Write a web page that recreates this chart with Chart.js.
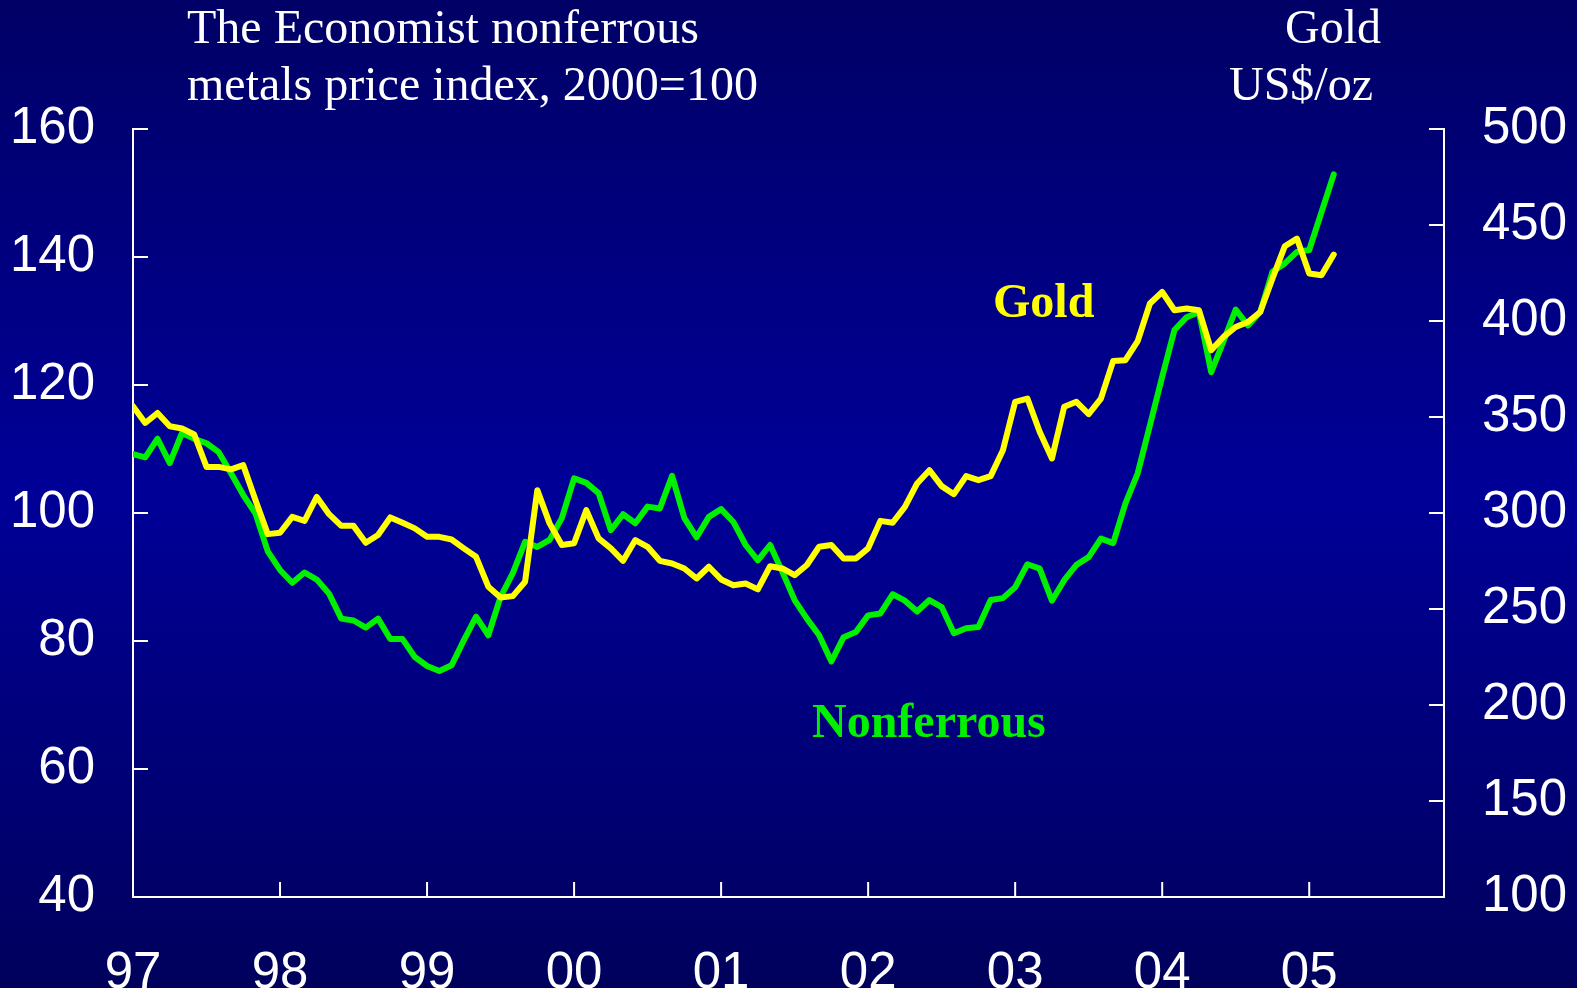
<!DOCTYPE html>
<html>
<head>
<meta charset="utf-8">
<script src="https://cdn.jsdelivr.net/npm/chart.js@4.4.1/dist/chart.umd.min.js"></script>
<style>
  html, body { margin: 0; padding: 0; background: #000070; }
  #wrap { width: 1577px; height: 988px; }
</style>
</head>
<body>
<div id="wrap"><canvas id="metalsChart" width="1577" height="988"></canvas></div>
<script>
// year labels, one tick every 12 months starting Jan 1997
const yearLabels = ['97', '98', '99', '00', '01', '02', '03', '04', '05'];

// The Economist nonferrous metals index (2000=100), monthly from Jan 1997
const nonferrous = [
  109.2, 108.7, 111.6, 107.8, 112.5, 111.6, 110.9, 109.5, 106.2, 102.8, 99.9, 94.0,
  91.1, 89.1, 90.7, 89.6, 87.4, 83.5, 83.2, 82.1, 83.5, 80.3, 80.3, 77.5,
  76.1, 75.3, 76.2, 80.1, 83.8, 80.9, 86.9, 90.6, 95.5, 94.7, 95.8, 99.2,
  105.4, 104.7, 103.1, 97.3, 99.8, 98.4, 101.0, 100.7, 105.8, 99.2, 96.2, 99.4,
  100.6, 98.6, 95.0, 92.6, 95.0, 90.8, 86.4, 83.5, 80.9, 76.8, 80.6, 81.4,
  84.0, 84.3, 87.3, 86.3, 84.6, 86.4, 85.3, 81.2, 82.0, 82.2, 86.4, 86.7,
  88.4, 92.0, 91.3, 86.3, 89.5, 91.9, 93.1, 96.0, 95.3, 101.5, 106.2, 113.7,
  121.3, 128.6, 130.6, 131.4, 122.0, 126.8, 131.8, 129.3, 131.4, 137.7, 139.0, 140.8,
  141.1, 147.0, 152.9
];

// Gold, US$/oz, monthly from Jan 1997
const gold = [
  355.6, 346.9, 352.1, 345.2, 344.0, 340.9, 324.0, 324.0, 322.7, 324.9, 306.7, 289.0,
  289.7, 298.0, 295.9, 308.4, 299.4, 293.3, 293.3, 284.5, 288.5, 297.7, 294.9, 292.0,
  287.6, 287.6, 286.2, 281.6, 277.2, 261.6, 256.0, 256.7, 264.2, 311.9, 294.6, 283.3,
  284.2, 301.5, 286.8, 281.6, 275.1, 285.9, 282.4, 275.1, 273.7, 271.1, 265.9, 272.0,
  265.4, 262.4, 263.3, 260.2, 272.3, 271.1, 267.6, 272.9, 282.4, 283.3, 276.3, 276.3,
  281.6, 295.9, 294.9, 303.2, 315.4, 322.3, 314.0, 309.8, 319.2, 317.1, 319.2, 332.7,
  357.9, 359.6, 342.3, 328.4, 355.3, 357.9, 351.5, 359.6, 379.2, 379.6, 389.5, 409.1,
  415.1, 405.6, 406.5, 405.6, 384.8, 391.7, 396.9, 399.5, 404.7, 422.1, 438.9, 442.9,
  424.7, 423.8, 434.6
];

const tickFont = { family: '"Liberation Sans", Arial, sans-serif', size: 51 };
const serif = '"Liberation Serif", "Times New Roman", serif';

// dark blue gradient behind everything
const backdrop = {
  id: 'backdrop',
  beforeDraw(chart) {
    const { ctx, width, height } = chart;
    const g = ctx.createLinearGradient(0, 0, 0, height);
    g.addColorStop(0, '#000066');
    g.addColorStop(0.5, '#000098');
    g.addColorStop(1, '#00005c');
    ctx.save();
    ctx.fillStyle = g;
    ctx.fillRect(0, 0, width, height);
    ctx.restore();
  }
};

// short tick marks pointing into the plot
const innerTicks = {
  id: 'innerTicks',
  afterDraw(chart) {
    const { ctx, chartArea } = chart;
    const len = 15;
    ctx.save();
    ctx.strokeStyle = '#ffffff';
    ctx.lineWidth = 2;
    ctx.beginPath();
    const sx = chart.scales.x;
    sx.ticks.forEach(t => {
      const px = sx.getPixelForValue(t.value);
      ctx.moveTo(px, chartArea.bottom);
      ctx.lineTo(px, chartArea.bottom - len);
    });
    const sy = chart.scales.y;
    sy.ticks.forEach(t => {
      const py = sy.getPixelForValue(t.value);
      ctx.moveTo(chartArea.left, py);
      ctx.lineTo(chartArea.left + len, py);
    });
    const sy1 = chart.scales.y1;
    sy1.ticks.forEach(t => {
      const py = sy1.getPixelForValue(t.value);
      ctx.moveTo(chartArea.right, py);
      ctx.lineTo(chartArea.right - len, py);
    });
    ctx.stroke();
    ctx.restore();
  }
};

// titles and series labels
const texts = {
  id: 'texts',
  afterDraw(chart) {
    const { ctx } = chart;
    ctx.save();
    ctx.textBaseline = 'alphabetic';
    ctx.fillStyle = '#ffffff';
    ctx.font = '48px ' + serif;
    ctx.textAlign = 'left';
    ctx.fillText('The Economist nonferrous', 187, 43);
    ctx.fillText('metals price index, 2000=100', 187, 100);
    ctx.textAlign = 'right';
    ctx.fillText('Gold', 1381, 43);
    ctx.fillText('US$/oz', 1373, 100);
    ctx.font = 'bold 48px ' + serif;
    ctx.textAlign = 'left';
    ctx.fillStyle = '#ffff00';
    ctx.fillText('Gold', 993, 317);
    ctx.fillStyle = '#00f000';
    ctx.fillText('Nonferrous', 812, 737);
    ctx.restore();
  }
};

new Chart(document.getElementById('metalsChart'), {
  type: 'line',
  data: {
    datasets: [
      {
        label: 'Gold',
        data: gold.map((v, i) => ({ x: i, y: v })),
        yAxisID: 'y1',
        borderColor: '#ffff00',
        borderWidth: 6,
        pointRadius: 0,
        tension: 0,
        borderJoinStyle: 'round',
        borderCapStyle: 'round'
      },
      {
        label: 'Nonferrous',
        data: nonferrous.map((v, i) => ({ x: i, y: v })),
        yAxisID: 'y',
        borderColor: '#00f000',
        borderWidth: 6,
        pointRadius: 0,
        tension: 0,
        borderJoinStyle: 'round',
        borderCapStyle: 'round'
      }
    ]
  },
  options: {
    responsive: false,
    animation: false,
    layout: { padding: { top: 129, left: 0, right: 0, bottom: 0 } },
    plugins: {
      legend: { display: false },
      tooltip: { enabled: false }
    },
    scales: {
      x: {
        type: 'linear',
        min: 0,
        max: 107,
        afterFit: s => { s.height = 91; },
        grid: { drawOnChartArea: false, drawTicks: false },
        border: { display: true, color: '#ffffff', width: 2 },
        ticks: {
          stepSize: 12,
          includeBounds: false,
          autoSkip: false,
          maxRotation: 0,
          padding: 46,
          color: '#ffffff',
          font: tickFont,
          callback: v => yearLabels[v / 12] ?? ''
        }
      },
      y: {
        position: 'left',
        min: 40,
        max: 160,
        afterFit: s => { s.width = 133; },
        grid: { drawOnChartArea: false, drawTicks: false },
        border: { display: true, color: '#ffffff', width: 2 },
        ticks: { stepSize: 20, padding: 38, color: '#ffffff', font: tickFont }
      },
      y1: {
        position: 'right',
        min: 100,
        max: 500,
        afterFit: s => { s.width = 133; },
        grid: { drawOnChartArea: false, drawTicks: false },
        border: { display: true, color: '#ffffff', width: 2 },
        ticks: { stepSize: 50, padding: 38, color: '#ffffff', font: tickFont }
      }
    }
  },
  plugins: [backdrop, innerTicks, texts]
});
</script>
</body>
</html>
